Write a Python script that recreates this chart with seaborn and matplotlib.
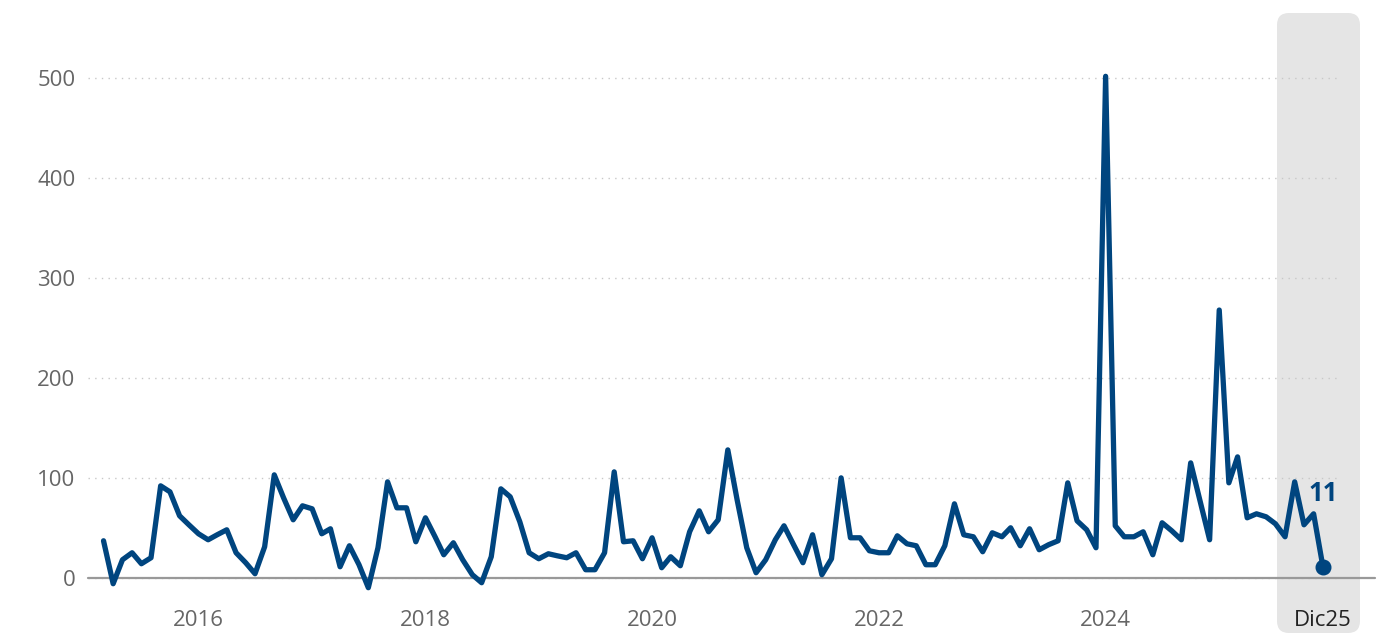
import matplotlib
matplotlib.use("Agg")
import matplotlib.pyplot as plt
import matplotlib.transforms as mtransforms
from matplotlib.patches import FancyBboxPatch
import pandas as pd
import seaborn as sns

# ── Data ─────────────────────────────────────────────────────────────────────
start_month = "2015-03-01"
values = [
    37, -6, 18, 25, 14, 20, 92, 86, 62, 53,                      # 2015 Mar-Dec
    44, 38, 43, 48, 25, 15, 4, 31, 103, 80, 58, 72,              # 2016
    69, 44, 49, 11, 32, 13, -10, 30, 96, 70, 70, 36,             # 2017
    60, 41, 23, 35, 18, 3, -5, 21, 89, 81, 56, 25,               # 2018
    19, 24, 22, 20, 25, 8, 8, 25, 106, 36, 37, 19,               # 2019
    40, 10, 21, 12, 46, 67, 46, 58, 128, 78, 30, 5,              # 2020
    18, 38, 52, 33, 15, 43, 3, 19, 100, 40, 40, 27,              # 2021
    25, 25, 42, 34, 32, 13, 13, 32, 74, 43, 41, 26,              # 2022
    45, 41, 50, 32, 49, 28, 33, 37, 95, 57, 48, 30,              # 2023
    502, 52, 41, 41, 46, 23, 55, 47, 38, 115, 76, 38,            # 2024
    268, 95, 121, 60, 64, 61, 54, 41, 96, 53, 64, 11,            # 2025
]
year_ticks = ["2016-01-01", "2018-01-01", "2020-01-01", "2022-01-01", "2024-01-01"]
year_labels = ["2016", "2018", "2020", "2022", "2024"]
last_label = "Dic25"
y_ticks = [0, 100, 200, 300, 400, 500]

dates = pd.date_range(start_month, periods=len(values), freq="MS")
df = pd.DataFrame({"fecha": dates, "valor": values})

# ── Style ────────────────────────────────────────────────────────────────────
LINE = "#00457f"
GREY_TXT = "#666666"
sns.set_theme(style="white")
plt.rcParams["font.family"] = ["Open Sans", "DejaVu Sans"]

W, H = 1396, 638
fig = plt.figure(figsize=(W / 100, H / 100), dpi=100)
ax = fig.add_axes([88 / W, 38 / H, 1252 / W, 590 / H])
ax.set_facecolor("none")

# highlighted last-month band (rounded, in pixel space)
band = FancyBboxPatch((1277, 5), 83, 620, boxstyle="round,pad=0,rounding_size=12",
                      transform=mtransforms.IdentityTransform(),
                      facecolor="#e5e5e5", edgecolor="none", zorder=0)
fig.add_artist(band)

sns.lineplot(data=df, x="fecha", y="valor", ax=ax, color=LINE, linewidth=3.8,
             solid_joinstyle="round", solid_capstyle="round", zorder=3)

last = df.iloc[-1]
ax.plot(last["fecha"], last["valor"], "o", color=LINE, markersize=10.5, zorder=4)
ax.annotate(f"{last['valor']}", xy=(last["fecha"], last["valor"]), xytext=(0, 73),
            textcoords="offset pixels", ha="center", va="center",
            fontsize=18.5, fontweight="bold", color=LINE, zorder=5)

ax.axhline(0, xmin=0, xmax=(1375 - 88) / 1252, color="#999999", linewidth=1.6,
           clip_on=False, zorder=2)

ax.set_xlim(pd.Timestamp("2015-01-10"), pd.Timestamp("2026-01-25"))
ax.set_ylim(-22.3, 568.4)

ax.set_yticks(y_ticks)
ax.set_yticklabels([str(v) for v in y_ticks])
xt = [pd.Timestamp(d) for d in year_ticks] + [dates[-1]]
ax.set_xticks(xt)
ax.set_xticklabels(year_labels + [last_label])
ax.tick_params(axis="both", length=0, labelsize=16, labelcolor=GREY_TXT)
ax.tick_params(axis="y", pad=9)
ax.tick_params(axis="x", pad=7)
ax.get_xticklabels()[-1].set_color("#222222")

ax.yaxis.grid(True, color="#c8c8c8", linewidth=1.0, linestyle=(0, (1, 3.8)))
ax.xaxis.grid(False)
ax.set_axisbelow(True)
for s in ax.spines.values():
    s.set_visible(False)
ax.set_xlabel("")
ax.set_ylabel("")

fig.savefig("out.png", dpi=100)
